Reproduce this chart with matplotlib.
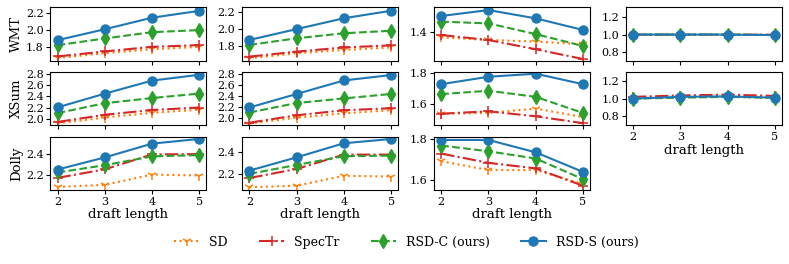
import matplotlib
matplotlib.use('Agg')
import matplotlib.pyplot as plt

plt.rcParams['font.family'] = ['DejaVu Serif']

draft = [2, 3, 4, 5]
rows = ['WMT', 'XSum', 'Dolly']
methods = ['SD', 'SpecTr', 'RSD-C (ours)', 'RSD-S (ours)']

# values per panel: [SD, SpecTr, RSD-C, RSD-S]
wmt_1 = [[1.665, 1.725, 1.77, 1.80], [1.685, 1.745, 1.80, 1.82],
         [1.82, 1.90, 1.975, 2.0], [1.88, 2.01, 2.148, 2.23]]
wmt_2 = [[1.65, 1.71, 1.75, 1.78], [1.67, 1.73, 1.78, 1.805],
         [1.81, 1.89, 1.95, 1.98], [1.87, 2.0, 2.13, 2.22]]
wmt_3 = [[1.383, 1.374, 1.369, 1.36], [1.391, 1.374, 1.343, 1.31],
         [1.436, 1.43, 1.394, 1.354], [1.455, 1.475, 1.447, 1.408]]
wmt_4 = [[0.998, 1.0, 0.998, 0.995], [1.0, 1.0, 1.0, 0.998],
         [1.0, 1.0, 1.0, 0.995], [1.0, 1.0, 1.0, 0.995]]

xsum_1 = [[1.914, 2.02, 2.105, 2.16], [1.94, 2.07, 2.155, 2.20],
          [2.10, 2.277, 2.37, 2.45], [2.203, 2.449, 2.683, 2.788]]
xsum_2 = [[1.90, 2.006, 2.085, 2.14], [1.915, 2.05, 2.14, 2.177],
          [2.10, 2.27, 2.354, 2.434], [2.19, 2.434, 2.678, 2.776]]
xsum_3 = [[1.533, 1.538, 1.567, 1.511], [1.533, 1.549, 1.516, 1.471],
          [1.662, 1.684, 1.644, 1.538], [1.727, 1.776, 1.796, 1.727]]
xsum_4 = [[1.0, 1.02, 1.02, 1.01], [1.02, 1.035, 1.045, 1.03],
          [1.0, 1.01, 1.02, 1.01], [1.0, 1.02, 1.025, 1.01]]

dolly_1 = [[2.08, 2.10, 2.20, 2.19], [2.168, 2.25, 2.394, 2.397],
           [2.22, 2.29, 2.375, 2.387], [2.248, 2.365, 2.498, 2.543]]
dolly_2 = [[2.076, 2.09, 2.18, 2.173], [2.16, 2.242, 2.373, 2.373],
           [2.197, 2.279, 2.358, 2.364], [2.227, 2.348, 2.476, 2.515]]
dolly_3 = [[1.692, 1.649, 1.649, 1.581], [1.729, 1.684, 1.657, 1.573],
           [1.768, 1.74, 1.705, 1.605], [1.795, 1.795, 1.735, 1.64]]

panels = [[wmt_1, wmt_2, wmt_3, wmt_4],
          [xsum_1, xsum_2, xsum_3, xsum_4],
          [dolly_1, dolly_2, dolly_3, None]]

ylims = [[(1.633, 2.271), (1.62, 2.26), (1.304, 1.484), (0.707, 1.304)],
         [(1.878, 2.837), (1.866, 2.83), (1.456, 1.807), (0.697, 1.30)],
         [(2.05, 2.565), (2.05, 2.536), (1.552, 1.811), None]]
yticks = [[[1.8, 2.0, 2.2], [1.8, 2.0, 2.2], [1.4], [0.8, 1.0, 1.2]],
          [[2.0, 2.2, 2.4, 2.6, 2.8], [2.0, 2.2, 2.4, 2.6, 2.8], [1.6, 1.8], [0.8, 1.0, 1.2]],
          [[2.2, 2.4], [2.2, 2.4], [1.6, 1.8], None]]

styles = [dict(color='tab:orange', ls=':', marker='1', ms=7, mew=1.1),
          dict(color='tab:red', ls='-.', marker='+', ms=7.5, mew=1.1),
          dict(color='tab:green', ls='--', marker='d', ms=7),
          dict(color='tab:blue', ls='-', marker='o', ms=6.5)]

fig, axes = plt.subplots(3, 4, figsize=(7.89, 2.64), dpi=100)
plt.subplots_adjust(left=0.064, right=0.991, top=0.972, bottom=0.28,
                    wspace=0.23, hspace=0.21)

for i in range(3):
    for j in range(4):
        ax = axes[i, j]
        data = panels[i][j]
        if data is None:
            ax.axis('off')
            continue
        for k in range(4):
            ax.plot(draft, data[k], lw=1.5, label=methods[k], **styles[k])
        ax.set_ylim(ylims[i][j])
        ax.set_yticks(yticks[i][j])
        ax.set_xticks(draft)
        ax.set_xlim(1.85, 5.15)
        ax.tick_params(labelsize=8, length=3, pad=2)
        bottom = (i == 2) or (i == 1 and j == 3)
        if bottom:
            ax.set_xlabel('draft length', fontsize=9.5, labelpad=1)
        else:
            ax.set_xticklabels([])
        if j == 0:
            ax.set_ylabel(rows[i], fontsize=9.5, labelpad=2)

handles, labels = axes[0, 0].get_legend_handles_labels()
fig.legend(handles, labels, loc='center', bbox_to_anchor=(0.515, 0.083),
           ncol=4, frameon=False, fontsize=9, columnspacing=2.5)

plt.savefig('out.png', dpi=100)
plt.close()
